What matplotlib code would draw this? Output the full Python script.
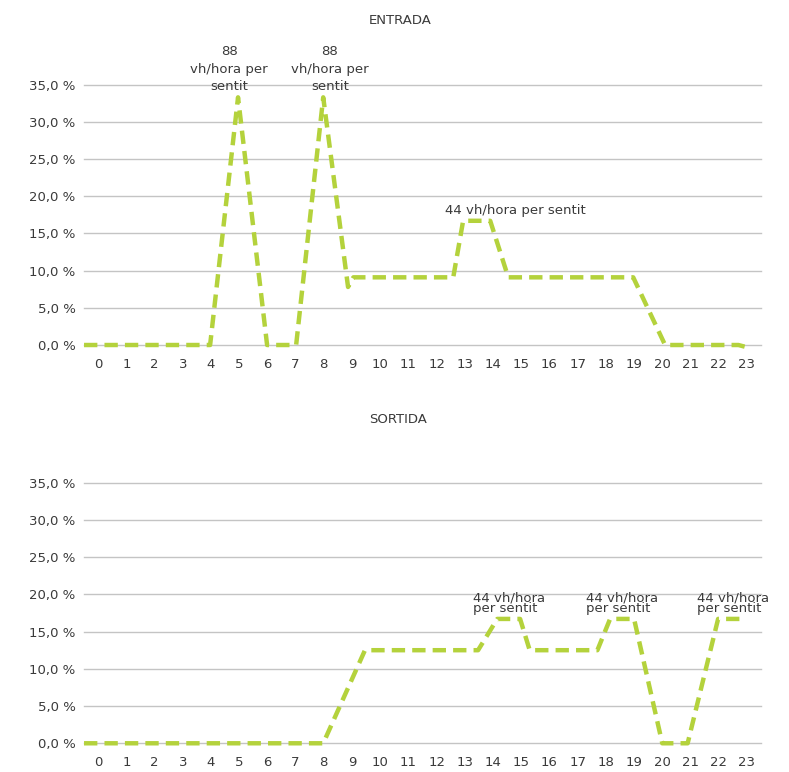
import matplotlib
matplotlib.use('Agg')
import matplotlib.pyplot as plt
from matplotlib.ticker import FuncFormatter

# hourly profiles (% of daily traffic)
hours_in = [-0.5, 3.97, 4.96, 5.99, 7.02, 7.98, 8.86, 9.05, 12.59, 12.94, 13.9, 14.54, 18.97, 20.1, 22.7, 23.0]
pct_in = [0, 0, 33.3, 0, 0, 33.3, 7.8, 9.1, 9.1, 16.7, 16.7, 9.1, 9.1, 0, 0, -0.3]

hours_out = [-0.5, 7.98, 9.46, 13.47, 14.15, 14.96, 15.3, 17.7, 18.15, 19.0, 20.0, 20.9, 21.98, 22.9]
pct_out = [0, 0, 12.5, 12.5, 16.7, 16.7, 12.5, 12.5, 16.7, 16.7, 0, 0, 16.7, 16.7]

hour_labels = [str(h) for h in range(24)]
y_ticks = [0, 5, 10, 15, 20, 25, 30, 35]

# annotations: (x, y, text)
notes_in = [(4.64, 37.1, '88\nvh/hora per\nsentit'),
            (8.22, 37.1, '88\nvh/hora per\nsentit'),
            (14.78, 18.15, '44 vh/hora per sentit')]
notes_out = [(13.29, 18.84, '44 vh/hora\nper sentit'),
             (17.3, 18.84, '44 vh/hora\nper sentit'),
             (21.24, 18.84, '44 vh/hora\nper sentit')]

green = '#b4d23c'
txt = '#3a3a3a'
grid = '#c4c4c4'

fig = plt.figure(figsize=(7.89, 7.72), dpi=100)
ax1 = fig.add_axes([0.1065, 0.5531, 0.858, 0.3372])
ax2 = fig.add_axes([0.1065, 0.0372, 0.858, 0.3376])


def style(ax):
    ax.set_xlim(-0.5, 23.5)
    ax.set_ylim(0, 35)
    ax.set_yticks(y_ticks)
    ax.yaxis.set_major_formatter(FuncFormatter(lambda v, p: f'{v:.1f}'.replace('.', ',') + ' %'))
    ax.set_xticks(range(24))
    ax.set_xticklabels(hour_labels)
    ax.tick_params(axis='both', length=0, labelsize=9.5, colors=txt)
    ax.tick_params(axis='y', pad=6)
    ax.tick_params(axis='x', pad=9)
    for s in ax.spines.values():
        s.set_visible(False)
    ax.grid(axis='y', color=grid, lw=1)
    for gl in ax.get_ygridlines():
        gl.set_clip_on(False)
    ax.set_axisbelow(True)


style(ax1)
style(ax2)

ax1.plot(hours_in, pct_in, color=green, lw=3.2, dashes=(3.0, 1.6), clip_on=False,
         dash_capstyle='butt')
ax2.plot(hours_out, pct_out, color=green, lw=3.2, dashes=(3.0, 1.6), clip_on=False,
         dash_capstyle='butt')

for x, y, t in notes_in:
    ax1.text(x, y, t, ha='center', va='center', fontsize=9.5, color=txt,
             linespacing=1.45, clip_on=False)
for x, y, t in notes_out:
    ax2.text(x, y, t, ha='left', va='center', fontsize=9.5, color=txt,
             linespacing=0.75, clip_on=False)

fig.text(0.507, 0.973, 'ENTRADA', ha='center', va='center', fontsize=9.5, color=txt)
fig.text(0.505, 0.457, 'SORTIDA', ha='center', va='center', fontsize=9.5, color=txt)

fig.savefig('out.png', dpi=100)
